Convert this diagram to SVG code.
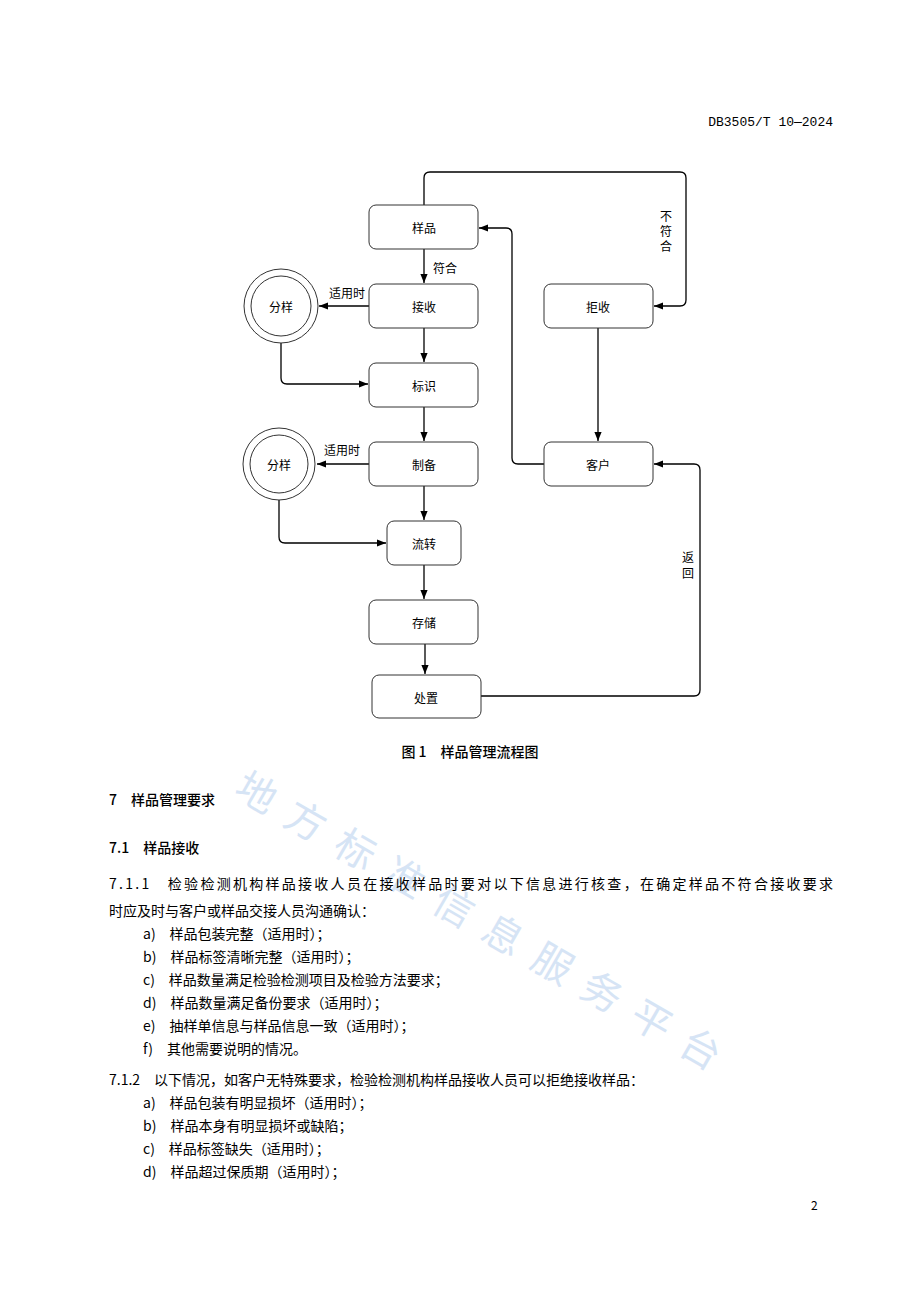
<svg xmlns="http://www.w3.org/2000/svg" width="920" height="1302" viewBox="0 0 920 1302">
<style>
.n{fill:#fff;stroke:#333;stroke-width:1}
.c{fill:none;stroke:#000;stroke-width:1.3}
.t{font-family:"Noto Sans CJK SC","Noto Sans",sans-serif;font-size:12px;fill:#000;text-anchor:middle;dominant-baseline:central}
.b{font-family:"Noto Sans CJK SC","Liberation Serif",serif;font-size:14px;fill:#000}
.h{font-family:"Noto Sans CJK SC",sans-serif;font-size:14px;font-weight:500;fill:#000}
.w{font-family:"Noto Sans CJK SC",sans-serif;font-size:40px;letter-spacing:17px;fill:#bcd3f0;opacity:0.6}
</style>
<defs><marker id="a" viewBox="0 0 10 10" refX="10" refY="5" markerWidth="7" markerHeight="7" orient="auto"><path d="M0,1 L10,5 L0,9 z" fill="#000"/></marker></defs>
<rect width="920" height="1302" fill="#fff"/>
<text x="833" y="126" text-anchor="end" font-family="Liberation Mono,monospace" font-size="13">DB3505/T 10—2024</text>
<text class="w" transform="translate(232,795) rotate(30)">地方标准信息服务平台</text>
<g id="connectors">
<path class="c" d="M424,205 V178 Q424,172 430,172 H680 Q686,172 686,178 V300 Q686,306 680,306 H654" marker-end="url(#a)"/>
<path class="c" d="M424,249 V283" marker-end="url(#a)"/>
<path class="c" d="M369,306 H319" marker-end="url(#a)"/>
<path class="c" d="M281,343 V378 Q281,384 287,384 H368" marker-end="url(#a)"/>
<path class="c" d="M424,328 V362" marker-end="url(#a)"/>
<path class="c" d="M424,407 V441" marker-end="url(#a)"/>
<path class="c" d="M369,464 H317" marker-end="url(#a)"/>
<path class="c" d="M279,500 V537 Q279,543 285,543 H386" marker-end="url(#a)"/>
<path class="c" d="M424,486 V520" marker-end="url(#a)"/>
<path class="c" d="M424,565 V599" marker-end="url(#a)"/>
<path class="c" d="M425,644 V674" marker-end="url(#a)"/>
<path class="c" d="M598,328 V441" marker-end="url(#a)"/>
<path class="c" d="M544,464 H518 Q512,464 512,458 V234 Q512,228 506,228 H479" marker-end="url(#a)"/>
<path class="c" d="M481,696 H694 Q700,696 700,690 V470 Q700,464 694,464 H654" marker-end="url(#a)"/>
<text class="t" x="445" y="267">符合</text>
<text class="t" x="347" y="292">适用时</text>
<text class="t" x="342" y="449">适用时</text>
<text class="t" x="666" y="215">不</text><text class="t" x="666" y="230">符</text><text class="t" x="666" y="245">合</text>
<text class="t" x="688" y="556">返</text><text class="t" x="688" y="572">回</text>
</g>
<g id="n1"><rect class="n" x="369" y="205" width="109" height="44" rx="7"/><text class="t" x="424" y="227">样品</text></g>
<g id="n2"><rect class="n" x="369" y="284" width="109" height="44" rx="7"/><text class="t" x="424" y="306">接收</text></g>
<g id="n3"><rect class="n" x="369" y="363" width="109" height="44" rx="7"/><text class="t" x="424" y="385">标识</text></g>
<g id="n4"><rect class="n" x="369" y="442" width="109" height="44" rx="7"/><text class="t" x="424" y="464">制备</text></g>
<g id="n5"><rect class="n" x="387" y="521" width="74" height="44" rx="7"/><text class="t" x="424" y="543">流转</text></g>
<g id="n6"><rect class="n" x="369" y="600" width="109" height="44" rx="7"/><text class="t" x="424" y="622">存储</text></g>
<g id="n7"><rect class="n" x="372" y="675" width="109" height="43" rx="7"/><text class="t" x="426" y="697">处置</text></g>
<g id="n8"><rect class="n" x="544" y="284" width="109" height="44" rx="7"/><text class="t" x="598" y="306">拒收</text></g>
<g id="n9"><rect class="n" x="544" y="442" width="109" height="44" rx="7"/><text class="t" x="598" y="464">客户</text></g>
<g id="n10"><circle class="n" cx="281" cy="306" r="37"/><circle class="n" cx="281" cy="306" r="30"/><text class="t" x="281" y="306">分样</text></g>
<g id="n11"><circle class="n" cx="279" cy="464" r="36"/><circle class="n" cx="279" cy="464" r="29"/><text class="t" x="279" y="464">分样</text></g>
<text class="h" x="470" y="757" text-anchor="middle">图 1　样品管理流程图</text>
<text class="h" x="109" y="805">7　样品管理要求</text>
<text class="h" x="109" y="853">7.1　样品接收</text>
<g class="b">
<text x="109" y="889" textLength="724">7.1.1　检验检测机构样品接收人员在接收样品时要对以下信息进行核查，在确定样品不符合接收要求</text>
<text x="109" y="916">时应及时与客户或样品交接人员沟通确认：</text>
<text x="143" y="939">a)　样品包装完整（适用时）；</text>
<text x="143" y="962">b)　样品标签清晰完整（适用时）；</text>
<text x="143" y="985">c)　样品数量满足检验检测项目及检验方法要求；</text>
<text x="143" y="1008">d)　样品数量满足备份要求（适用时）；</text>
<text x="143" y="1031">e)　抽样单信息与样品信息一致（适用时）；</text>
<text x="143" y="1054">f)　其他需要说明的情况。</text>
<text x="109" y="1085">7.1.2　以下情况，如客户无特殊要求，检验检测机构样品接收人员可以拒绝接收样品：</text>
<text x="143" y="1108">a)　样品包装有明显损坏（适用时）；</text>
<text x="143" y="1131">b)　样品本身有明显损坏或缺陷；</text>
<text x="143" y="1154">c)　样品标签缺失（适用时）；</text>
<text x="143" y="1177">d)　样品超过保质期（适用时）；</text>
<text x="811" y="1210" font-size="12">2</text>
</g>
</svg>
